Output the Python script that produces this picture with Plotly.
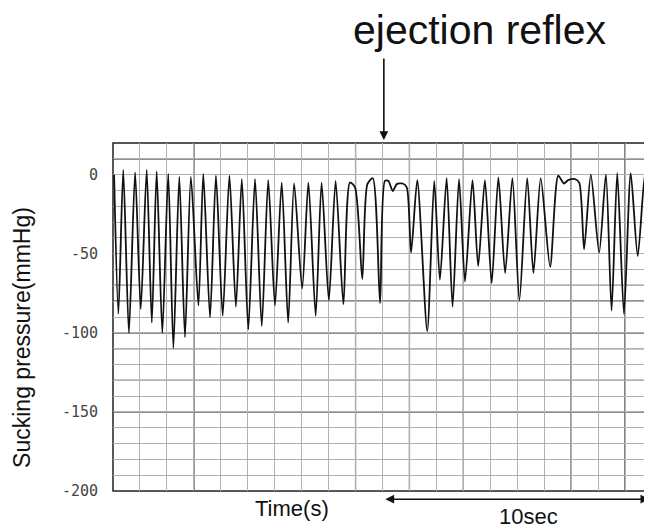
import plotly.graph_objects as go

# ---- data (time in s, pressure in mmHg) ----
time_s = [0.04, 0.20, 0.38, 0.59, 0.82, 1.03, 1.25, 1.44, 1.62, 1.83,
          2.05, 2.24, 2.46, 2.67, 2.89, 3.17, 3.35, 3.60, 3.82, 4.07,
          4.32, 4.56, 4.78, 5.02, 5.27, 5.52, 5.76, 6.01, 6.26, 6.50,
          6.72, 7.02, 7.25, 7.52, 7.74, 8.01, 8.26, 8.55, 8.79, 8.98,
          9.25, 9.44, 9.64, 9.91, 10.09, 10.22, 10.38, 10.53, 10.75, 10.90,
          11.06, 11.29, 11.66, 11.92, 12.13, 12.38, 12.60, 12.84, 13.06, 13.34,
          13.55, 13.80, 14.05, 14.30, 14.55, 14.82, 15.08, 15.37, 15.60, 15.87,
          16.22, 16.52, 16.73, 16.89, 17.14, 17.30, 17.48, 17.73, 18.04, 18.29,
          18.50, 18.71, 18.96, 19.21, 19.47, 19.74, 20.00]
pressure = [0, -88, 3, -100, 1.4, -85, 3, -93.5, 2, -100,
            0.4, -109.6, -1.4, -102.7, -1.4, -82.7, 0.4, -90.2, -0.6, -89.2,
            -0.6, -83.4, -2.8, -97.8, -2.8, -95.7, -3.5, -82.7, -5, -93.5,
            -5.5, -72, -5, -89.2, -5, -79.5, -3.9, -82, -5, -8,
            -66, -6, -2.3, -81.2, -4, -4, -10.4, -6, -5.6, -8,
            -49.3, -3.5, -98.9, -4, -66.5, -2.2, -83.4, -2.8, -67.6, -3.5,
            -57.9, -3.5, -68.6, -1.7, -62.2, -2.2, -79.5, -2.2, -62.2, -2.2,
            -58.3, -0.7, -5.6, -3.5, -2.8, -5, -47.2, 0, -49.3, 0,
            -85.9, 0.9, -88.1, 0.9, -51.5, 0.4, -62]

y_tick_vals = [0, -50, -100, -150, -200]
y_tick_text = ["0", "-50", "-100", "-150", "-200"]

ejection_time = 10.05
scale_bar = [10.05, 19.9]

# ---- styling constants ----
DARK_X = [3, 9, 11, 13, 17, 19]
DARK_Y = [10, -70, -80, -100, -110, -130, -150]
LIGHT = "#b0b0b0"
DARK = "#222222"

fig = go.Figure()
fig.add_trace(go.Scatter(
    x=time_s, y=pressure, mode="lines",
    line=dict(color="#111111", width=1.8, shape="spline", smoothing=0.7),
    showlegend=False, hoverinfo="skip"))

shapes = []
for xv in DARK_X:
    shapes.append(dict(type="line", xref="x", yref="paper", x0=xv, x1=xv,
                       y0=0, y1=1, line=dict(color=DARK, width=1.2), layer="below"))
for yv in DARK_Y:
    shapes.append(dict(type="line", xref="paper", yref="y", x0=0, x1=1,
                       y0=yv, y1=yv, line=dict(color=DARK, width=1.2), layer="below"))
# frame
shapes.append(dict(type="rect", xref="paper", yref="paper", x0=0, x1=1.002, y0=0, y1=1,
                   line=dict(color=DARK, width=1.5), layer="below"))

annotations = [
    dict(text="ejection reflex", xref="paper", yref="paper", x=0.68, y=1.0,
         yshift=113, xanchor="center", yanchor="middle", showarrow=False,
         font=dict(family="Liberation Sans, Arial", size=41, color="#111")),
    dict(text="", xref="x", yref="paper", x=ejection_time, y=1, yshift=3,
         ax=0, ay=-83, showarrow=True, arrowhead=2, arrowsize=1.1,
         arrowwidth=1.6, arrowcolor="#111"),
    dict(text="", xref="x", yref="paper", axref="x", ayref="pixel",
         x=scale_bar[1], y=-0.0235, ax=scale_bar[0], ay=0,
         showarrow=True, arrowhead=2, startarrowhead=2, arrowside="end+start",
         arrowsize=1.1, startarrowsize=1.1, arrowwidth=1.6, arrowcolor="#111"),
    dict(text="10sec", xref="x", yref="paper", x=15.4, y=-0.074,
         xanchor="center", yanchor="middle", showarrow=False,
         font=dict(family="Liberation Sans, Arial", size=22, color="#111")),
    dict(text="Time(s)", xref="x", yref="paper", x=6.65, y=-0.05,
         xanchor="center", yanchor="middle", showarrow=False,
         font=dict(family="Liberation Sans, Arial", size=22, color="#111")),
    dict(text="Sucking pressure(mmHg)", xref="paper", yref="paper",
         x=0, xshift=-91, y=0.44, textangle=-90,
         xanchor="center", yanchor="middle", showarrow=False,
         font=dict(family="Liberation Sans, Arial", size=23, color="#111")),
]

# page body has an 8px margin, so the figure is 8px smaller and margins shifted
fig.update_layout(
    width=644, height=522,
    margin=dict(l=105, r=0, t=135, b=39, pad=0),
    paper_bgcolor="white", plot_bgcolor="white",
    shapes=shapes, annotations=annotations,
    xaxis=dict(range=[0, 20], showticklabels=False, ticks="",
               showgrid=True, dtick=1, tick0=0, gridcolor=LIGHT, gridwidth=1,
               zeroline=False, showline=False),
    yaxis=dict(range=[-200, 20], tickvals=y_tick_vals, ticktext=y_tick_text,
               showgrid=True, gridcolor=LIGHT, gridwidth=1,
               minor=dict(dtick=10, tick0=0, showgrid=True, gridcolor=LIGHT, gridwidth=1),
               ticks="", ticklabelstandoff=14, zeroline=False, showline=False,
               tickfont=dict(family="DejaVu Sans Mono", size=15, color="#444")),
)

fig.write_html("out.html")
